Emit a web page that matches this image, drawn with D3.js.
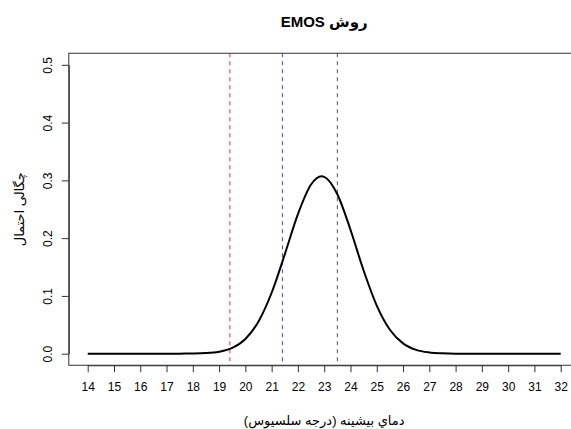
<!DOCTYPE html>
<html>
<head>
<meta charset="utf-8">
<script src="https://cdn.jsdelivr.net/npm/d3@7"></script>
<style>
  body { margin: 0; background: #fff; }
  svg { display: block; font-family: "Liberation Sans", Arial, "DejaVu Sans", sans-serif; }
</style>
</head>
<body>
<div id="chart"></div>
<script>
// density values
var temps = [14, 15, 16, 17, 17.5, 18, 18.5, 19, 19.5, 20, 20.5, 21, 21.5, 22, 22.5, 22.9, 23,
             23.5, 24, 24.5, 25, 25.5, 26, 26.5, 27, 27.5, 28, 29, 30, 31, 32];
var density = [0, 0, 0, 0, 0.0001, 0.0003, 0.0010, 0.0034, 0.0100, 0.0255, 0.0558, 0.1055, 0.1719, 0.2416, 0.2928, 0.3070, 0.3061,
               0.2760, 0.2146, 0.1440, 0.0833, 0.0415, 0.0179, 0.0066, 0.0021, 0.0006, 0.0001, 0, 0, 0, 0];

// vertical reference lines
var refValues = [19.41, 21.41, 23.5];
var refColors = ["#ff3030", "#4040ff", "#555555"];

var xTicks = d3.range(14, 33, 1);
var yTicks = [0, 0.1, 0.2, 0.3, 0.4, 0.5];

var title = "روش EMOS";
var xTitle = "دماي بيشينه (درجه سلسيوس)";
var yTitle = "چگالی احتمال";

function draw() {
    var width = 571, height = 429;

    var svg = d3.select("#chart").append("svg")
        .attr("width", width)
        .attr("height", height);

    // R style scales with 4% padding
    var x = d3.scaleLinear().domain([14, 32]).range([87.7, 560.7]);
    var y = d3.scaleLinear().domain([0, 0.5]).range([353.7, 64.8]);

    var boxLeft = x(13.28), boxRight = x(32.72), boxTop = y(0.52), boxBottom = y(-0.02);

    // reference lines
    svg.selectAll(".ref")
        .data(refValues)
      .enter().append("line")
        .attr("class", "ref")
        .attr("x1", function(d) { return x(d); })
        .attr("x2", function(d) { return x(d); })
        .attr("y1", boxTop)
        .attr("y2", boxBottom)
        .attr("stroke", function(d, i) { return refColors[i]; })
        .attr("stroke-width", 1)
        .attr("stroke-dasharray", "4,4");

    // density curve
    var line = d3.line()
        .curve(d3.curveMonotoneX)
        .x(function(d, i) { return x(temps[i]); })
        .y(function(d) { return y(d); });

    svg.append("path")
        .datum(density)
        .attr("d", line)
        .attr("fill", "none")
        .attr("stroke", "#000")
        .attr("stroke-width", 2);

    // box
    svg.append("rect")
        .attr("x", boxLeft)
        .attr("y", boxTop)
        .attr("width", boxRight - boxLeft)
        .attr("height", boxBottom - boxTop)
        .attr("fill", "none")
        .attr("stroke", "#333")
        .attr("stroke-width", 1);

    // x axis
    var xAxis = svg.append("g")
        .attr("transform", "translate(0," + boxBottom + ")")
        .call(d3.axisBottom(x).tickValues(xTicks).tickFormat(d3.format("d")).tickSize(7).tickSizeOuter(0).tickPadding(10));
    xAxis.select(".domain").attr("stroke", "#333");
    xAxis.selectAll("line").attr("stroke", "#333");
    xAxis.selectAll("text").attr("font-size", 12).attr("fill", "#000");

    // y axis, labels turned like R
    var yAxis = svg.append("g")
        .attr("transform", "translate(" + boxLeft + ",0)")
        .call(d3.axisLeft(y).tickValues(yTicks).tickFormat(d3.format(".1f")).tickSize(7).tickSizeOuter(0));
    yAxis.select(".domain").attr("stroke", "#333");
    yAxis.selectAll("line").attr("stroke", "#333");
    yAxis.selectAll("text")
        .attr("x", 0)
        .attr("dy", null)
        .attr("text-anchor", "middle")
        .attr("transform", "translate(-17,0) rotate(-90)")
        .attr("font-size", 12)
        .attr("fill", "#000");

    // titles
    svg.append("text")
        .attr("x", (boxLeft + boxRight) / 2)
        .attr("y", 27)
        .attr("text-anchor", "middle")
        .attr("direction", "rtl")
        .attr("font-size", 15)
        .attr("font-weight", "bold")
        .text(title);

    svg.append("text")
        .attr("x", (boxLeft + boxRight) / 2)
        .attr("y", 425)
        .attr("text-anchor", "middle")
        .attr("direction", "rtl")
        .attr("font-size", 13)
        .text(xTitle);

    svg.append("text")
        .attr("transform", "translate(24," + ((boxTop + boxBottom) / 2) + ") rotate(-90)")
        .attr("text-anchor", "middle")
        .attr("direction", "rtl")
        .attr("font-size", 13)
        .text(yTitle);
}

draw();
</script>
</body>
</html>
